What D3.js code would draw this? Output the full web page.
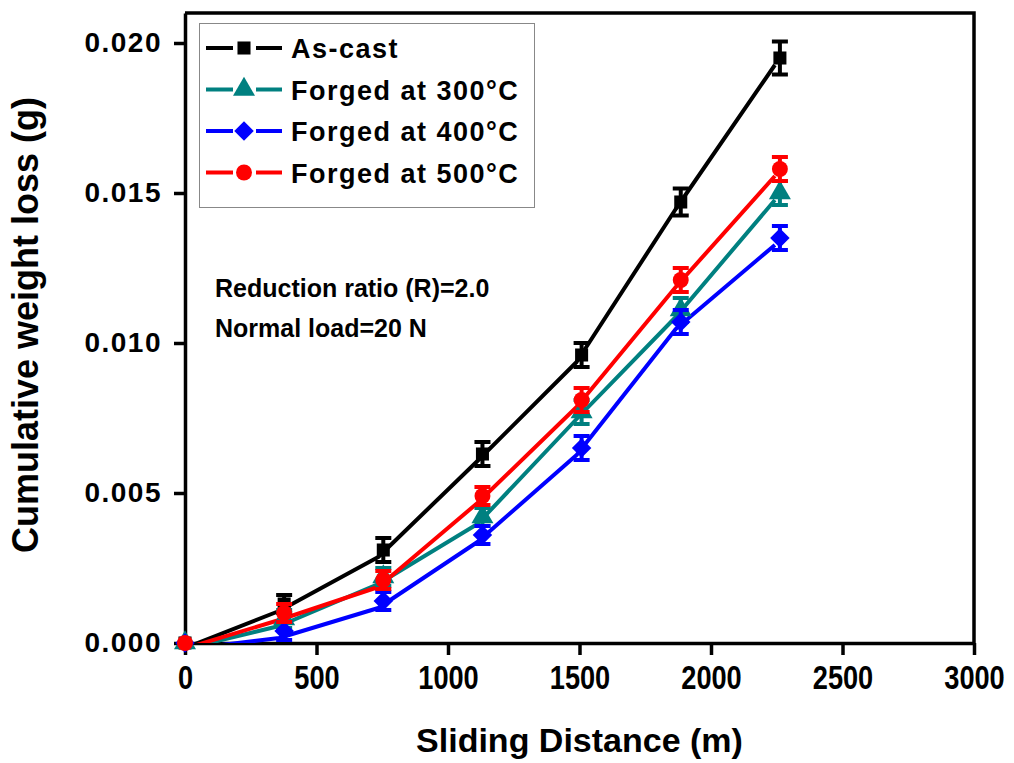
<!DOCTYPE html>
<html>
<head>
<meta charset="utf-8">
<script src="https://cdn.jsdelivr.net/npm/d3@7"></script>
<style>
  body { margin: 0; background: #fff; }
  text { font-family: "Liberation Sans", Arial, sans-serif; font-weight: bold; }
</style>
</head>
<body>
<div id="chart-area"></div>
<script>
// data
var distance = [0, 377, 754, 1131, 1508, 1885, 2262];
var seriesNames = ["As-cast", "Forged at 300\u00B0C", "Forged at 400\u00B0C", "Forged at 500\u00B0C"];
var asCast    = [0, 0.0013, 0.0031, 0.0063, 0.0096, 0.0147, 0.0195];
var forged300 = [0, 0.0008, 0.0022, 0.0042, 0.0077, 0.0111, 0.0150];
var forged400 = [0, 0.0004, 0.0014, 0.0036, 0.0065, 0.0107, 0.0135];
var forged500 = [0, 0.0010, 0.0021, 0.0049, 0.0081, 0.0121, 0.0158];
var asCastErr    = [0, 0.0003, 0.0004, 0.0004, 0.0004, 0.00045, 0.00055];
var forged300Err = [0, 0.0003, 0.0003, 0.0003, 0.0004, 0.0004, 0.0004];
var forged400Err = [0, 0.0003, 0.0003, 0.0003, 0.0004, 0.0004, 0.0004];
var forged500Err = [0, 0.0003, 0.0003, 0.0003, 0.0004, 0.0004, 0.0004];
var xTicks = [0, 500, 1000, 1500, 2000, 2500, 3000];
var yTicks = [0, 0.005, 0.010, 0.015, 0.020];

var colors = ["#000000", "#008080", "#0000ff", "#ff0000"];
//- diamond is a square turned 45 degrees (d3's own diamond is too thin)
var symbols = [d3.symbolSquare, d3.symbolTriangle, d3.symbolSquare, d3.symbolCircle];
var symbolSizes = [170, 210, 190, 200];
var symbolTurn = [0, 0, 45, 0];

var series = [asCast, forged300, forged400, forged500].map(function(vals, i) {
  var errs = [asCastErr, forged300Err, forged400Err, forged500Err][i];
  return {
    name: seriesNames[i],
    color: colors[i],
    symbol: symbols[i],
    size: symbolSizes[i],
    turn: symbolTurn[i],
    points: vals.map(function(v, j) { return { x: distance[j], y: v, e: errs[j] }; })
  };
});

var completeWidth = 1014,
    completeHeight = 763;
//= plot frame edges (window.top is reserved, so own names)
var plotLeft = 185, plotRight = 974, plotTop = 13, plotBottom = 643;

var svg = d3.select("#chart-area")
  .append("svg")
    .attr("width", completeWidth)
    .attr("height", completeHeight);

// scales
var x = d3.scaleLinear().domain([0, 3000]).range([plotLeft, plotRight]);
var y = d3.scaleLinear().domain([0, 0.021]).range([plotBottom, plotTop]);

svg.append("clipPath").attr("id", "plot-clip")
  .append("rect")
    .attr("x", plotLeft).attr("y", plotTop)
    .attr("width", plotRight - plotLeft).attr("height", plotBottom - plotTop);

// axes
var xAxisCall = d3.axisBottom(x).tickValues(xTicks).tickSize(12).tickSizeOuter(0).tickPadding(10)
  .tickFormat(d3.format("d"));
var xAxis = svg.append("g")
  .attr("class", "x axis")
  .attr("transform", "translate(0," + plotBottom + ")")
  .call(xAxisCall);
//- tall narrow digits like the original
xAxis.selectAll(".tick text")
  .attr("font-size", "34px")
  .attr("fill", "#000")
  .attr("style", "transform: scaleX(0.8); transform-box: fill-box; transform-origin: center;");

var yAxisCall = d3.axisLeft(y).tickValues(yTicks).tickSize(11).tickSizeOuter(0).tickPadding(12)
  .tickFormat(d3.format(".3f"));
var yAxis = svg.append("g")
  .attr("class", "y axis")
  .attr("transform", "translate(" + plotLeft + ",0)")
  .call(yAxisCall);
yAxis.selectAll("text")
  .attr("font-size", "28px")
  .attr("letter-spacing", "1.5px")
  .attr("fill", "#000");

svg.selectAll(".axis path, .axis line").attr("stroke", "#000").attr("stroke-width", 3.5);

// frame top and right
svg.append("path")
  .attr("d", "M" + plotLeft + "," + plotTop + "H" + plotRight + "V" + plotBottom)
  .attr("fill", "none")
  .attr("stroke", "#000")
  .attr("stroke-width", 3.5);

// lines (drawn slightly offset from the markers, as in the original)
var line = d3.line().x(function(d) { return x(d.x); }).y(function(d) { return y(d.y); });
var plot = svg.append("g").attr("clip-path", "url(#plot-clip)");

series.forEach(function(s) {
  plot.append("path")
    .datum(s.points)
    .attr("transform", "translate(-5,7)")
    .attr("fill", "none")
    .attr("stroke", s.color)
    .attr("stroke-width", 4)
    .attr("stroke-linejoin", "round")
    .attr("d", line);
});

// error bars and markers
series.forEach(function(s) {
  var g = svg.append("g");
  var pts = s.points.filter(function(d) { return d.e > 0; });
  g.selectAll(".err")
    .data(pts)
    .enter().append("path")
      .attr("fill", "none")
      .attr("stroke", s.color)
      .attr("stroke-width", 4)
      .attr("d", function(d) {
        var cx = x(d.x), y1 = y(d.y + d.e), y2 = y(d.y - d.e);
        return "M" + (cx - 8) + "," + y1 + "H" + (cx + 8) +
               "M" + cx + "," + y1 + "V" + y2 +
               "M" + (cx - 8) + "," + y2 + "H" + (cx + 8);
      });
  g.selectAll(".marker")
    .data(s.points)
    .enter().append("path")
      .attr("transform", function(d) {
        return "translate(" + x(d.x) + "," + y(d.y) + ") rotate(" + s.turn + ")";
      })
      .attr("fill", s.color)
      .attr("d", d3.symbol().type(s.symbol).size(s.size));
});

// legend
var legend = svg.append("g");
legend.append("rect")
  .attr("x", 199.5).attr("y", 23.5)
  .attr("width", 335).attr("height", 184)
  .attr("fill", "#fff")
  .attr("stroke", "#888")
  .attr("stroke-width", 1);

series.forEach(function(s, i) {
  var ly = 48 + i * 41.5;
  var row = legend.append("g");
  row.append("path")
    .attr("d", "M206," + ly + "H233M256," + ly + "H282")
    .attr("stroke", s.color)
    .attr("stroke-width", 4);
  row.append("path")
    .attr("transform", "translate(244," + ly + ") rotate(" + s.turn + ")")
    .attr("fill", s.color)
    .attr("d", d3.symbol().type(s.symbol).size(s.size));
  row.append("text")
    .attr("x", 291)
    .attr("y", ly + 10)
    .attr("font-size", "27px")
    .attr("letter-spacing", "1.5px")
    .text(s.name);
});

// annotations
svg.append("text")
  .attr("x", 215).attr("y", 297)
  .attr("font-size", "25px")
  .text("Reduction ratio (R)=2.0");
svg.append("text")
  .attr("x", 215).attr("y", 337)
  .attr("font-size", "25px")
  .text("Normal load=20 N");

// axis titles
svg.append("text")
  .attr("x", (plotLeft + plotRight) / 2)
  .attr("y", 752)
  .attr("font-size", "34px")
  .attr("text-anchor", "middle")
  .text("Sliding Distance (m)");
svg.append("text")
  .attr("transform", "rotate(-90)")
  .attr("x", -325)
  .attr("y", 38)
  .attr("font-size", "36px")
  .attr("text-anchor", "middle")
  .text("Cumulative weight loss (g)");
</script>
</body>
</html>
